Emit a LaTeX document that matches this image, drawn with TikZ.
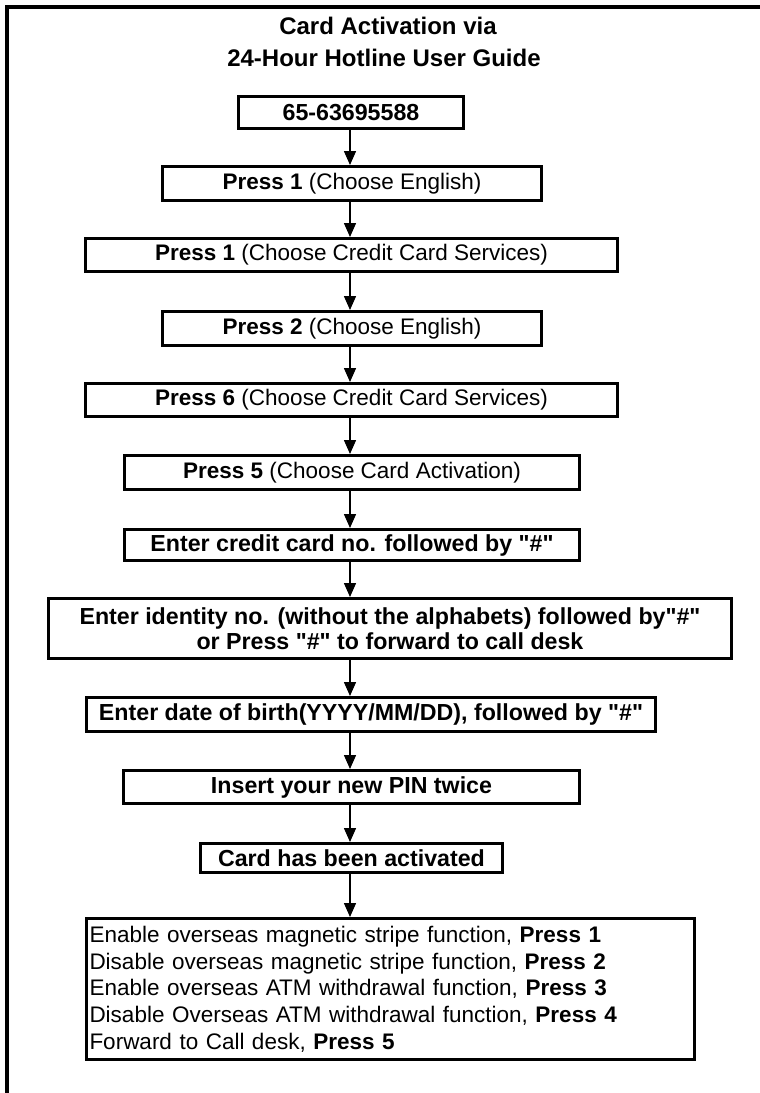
\documentclass[tikz,border=0pt]{standalone}
\usepackage{fontspec}
\setmainfont{Liberation Sans}
\usetikzlibrary{arrows.meta}
\newcommand{\qd}{\textquotedbl}

\begin{document}
\begin{tikzpicture}[x=1pt, y=-1pt,
    box/.style={draw, line width=3pt, inner sep=0pt, align=center,
      font=\fontsize{22.5}{25}\selectfont},
    boldbox/.style={box, font=\fontsize{23.2}{25}\selectfont\bfseries},
    arr/.style={line width=1.5pt, -{Triangle[width=12pt,length=14pt]}}]
    \useasboundingbox (0, 0) rectangle (760, 1093);
    \draw[line width=4pt] (7, 1093) -- (7, 7) -- (760, 7);
    \node[font=\fontsize{24}{30}\selectfont\bfseries] (title1) at (388, 26) {Card Activation via};
    \node[font=\fontsize{24}{30}\selectfont\bfseries] (title2) at (384, 58) {24-Hour Hotline User Guide};
    \coordinate (spine) at (350, 0);
    \node[boldbox, minimum width=225, minimum height=32] (call) at (351, 112.5) {65-63695588};
    \node[box, minimum width=379, minimum height=34] (lang1) at (352, 183.5) {\textbf{Press 1} (Choose English)};
    \node[box, minimum width=532, minimum height=33] (card1) at (351.5, 255) {\textbf{Press 1} (Choose Credit Card Services)};
    \node[box, minimum width=379, minimum height=34] (lang2) at (352, 328.5) {\textbf{Press 2} (Choose English)};
    \node[box, minimum width=532, minimum height=33] (card2) at (351.5, 400) {\textbf{Press 6} (Choose Credit Card Services)};
    \node[box, minimum width=455, minimum height=34] (activ) at (352, 472.5) {\textbf{Press 5} (Choose Card Activation)};
    \node[boldbox, minimum width=455, minimum height=31] (cardno) at (352, 545) {Enter credit card no. followed by \qd\#\qd};
    \node[boldbox, minimum width=683, minimum height=60] (ident) at (390, 628.5) {Enter identity no. (without the alphabets) followed by\qd\#\qd\\ or Press \qd\#\qd{} to forward to call desk};
    \node[boldbox, minimum width=569, minimum height=34] (birth) at (371, 714.5) {Enter date of birth(YYYY/MM/DD), followed by \qd\#\qd};
    \node[boldbox, minimum width=456, minimum height=33] (pin) at (351.5, 787) {Insert your new PIN twice};
    \node[boldbox, minimum width=302, minimum height=29] (done) at (351.5, 858) {Card has been activated};
    \node[box, text width=602, minimum height=141, inner sep=3pt, align=left, font=\fontsize{22.5}{26.7}\selectfont] (menu) at (390.5, 989) {Enable overseas magnetic stripe function, \textbf{Press 1}\\
      Disable overseas magnetic stripe function, \textbf{Press 2}\\
      Enable overseas ATM withdrawal function, \textbf{Press 3}\\
      Disable Overseas ATM withdrawal function, \textbf{Press 4}\\
      Forward to Call desk, \textbf{Press 5}\\[5pt]};
    \draw[arr] (call.south -| spine) -- (lang1.north -| spine);
    \draw[arr] (lang1.south -| spine) -- (card1.north -| spine);
    \draw[arr] (card1.south -| spine) -- (lang2.north -| spine);
    \draw[arr] (lang2.south -| spine) -- (card2.north -| spine);
    \draw[arr] (card2.south -| spine) -- (activ.north -| spine);
    \draw[arr] (activ.south -| spine) -- (cardno.north -| spine);
    \draw[arr] (cardno.south -| spine) -- (ident.north -| spine);
    \draw[arr] (ident.south -| spine) -- (birth.north -| spine);
    \draw[arr] (birth.south -| spine) -- (pin.north -| spine);
    \draw[arr] (pin.south -| spine) -- (done.north -| spine);
    \draw[arr] (done.south -| spine) -- (menu.north -| spine);
  \end{tikzpicture}
\end{document}
